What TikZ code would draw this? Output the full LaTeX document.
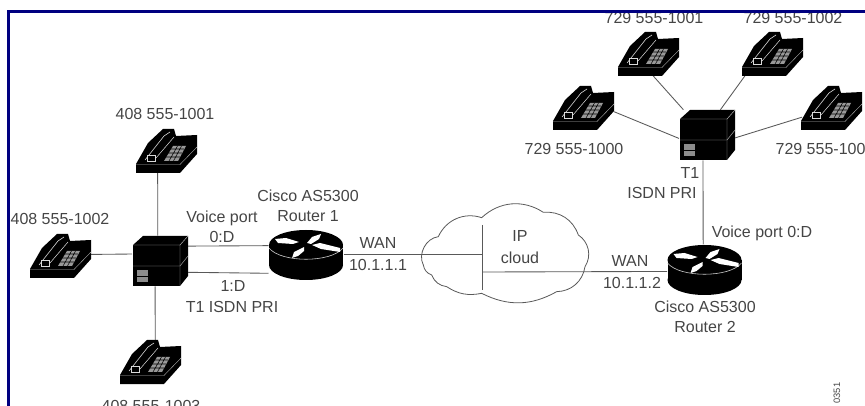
\documentclass[tikz,border=0pt]{standalone}
\usepackage{fontspec}
\setmainfont{Liberation Sans}
\definecolor{framecol}{RGB}{0,0,128}
\definecolor{txtcol}{gray}{0.27}
\definecolor{wirecol}{gray}{0.35}
\tikzset{
  lab/.style={font=\fontsize{12}{15}\selectfont,text=txtcol,inner sep=0pt,align=center},
  wire/.style={draw=wirecol,line width=0.65pt},
  phonebox/.style={minimum width=45pt,minimum height=33pt,inner sep=0pt,outer sep=0pt},
  switchbox/.style={minimum width=42pt,minimum height=38pt,inner sep=0pt,outer sep=0pt},
  routerbox/.style={minimum width=56.25pt,minimum height=37.5pt,inner sep=0pt,outer sep=0pt},
  phonepic/.pic={
    \fill[black] (-31,13)--(-31,22)--(13,22)--(30,3)--(30,-16)--(9,-15)--(7,-22)--(-4,-22)--(-19,-8)--cycle;
    \draw[white!70!black,line width=.3pt] (-31,13.5)--(13,13.5)--(30,-4);
    \draw[white!85!black,line width=.45pt] (-22,9)--(-3,-15)--(3,-19);
    \draw[white!85!black,line width=.4pt] (-11,7)--(7,-14);
    \draw[white!85!black,line width=.4pt,fill=black] (-20,4)--(-12,4)--(-12,10)--(-20,10)--cycle;
    \fill[white!60!black] (-3,10)--(6,-5)--(19,-5)--(11,10)--cycle;
    \draw[black,line width=.4pt] (-1,6)--(13,6) (1,2)--(15,2) (3.5,-2)--(17,-2)
      (2,10)--(10.5,-5) (6.5,10)--(14.5,-5);
  },
  switchpic/.pic={
    \fill[black] (-27,-16)--(-17,-25)--(28,-25)--(28,15)--(20,25)--(-27,25)--cycle;
    \draw[white!70!black,line width=.35pt] (-27,-16)--(20,-16)--(28,-25) (20,-16)--(20,25);
    \draw[white!70!black,line width=.35pt] (-27,5)--(20,5)--(28,-5);
    \fill[white!55!black] (-23,9)--(-12,9)--(-12,21)--(-23,21)--cycle;
    \draw[black,line width=.4pt] (-23,15)--(-12,15);
  },
  routerpic/.pic={
    \fill[black] (0,20) ellipse (37 and 15);
    \fill[black] (-37,0)--(37,0)--(37,20)--(-37,20)--cycle;
    \fill[black] (0,0) ellipse (37 and 15);
    \draw[white!80!black,line width=.45pt] (-37,3) .. controls (-25,18) and (25,18) .. (37,3);
    \fill[white] (-31,-6)--(-20,-7)--(-7,-3)--(-13,-1)--(-28,-2)--cycle;
    \fill[white] (1,-2)--(6,-8)--(15,-11)--(13,-6)--(5,-1)--cycle;
    \fill[white] (6,0)--(14,-2)--(34,3)--(34,7)--(15,4)--cycle;
    \fill[white] (-14,13)--(-12,7)--(-2,2)--(-2,6)--(-8,11)--cycle;
  }
}
\begin{document}
\begin{tikzpicture}[x=.75pt,y=-.75pt]
\useasboundingbox (0,0) rectangle (865,406);
\begin{scope}
\clip (10,13) rectangle (865,406);
% device anchors
\node[phonebox] (ph1) at (167,151) {};
\node[phonebox] (ph2) at (61,256) {};
\node[phonebox] (ph3) at (151,362) {};
\node[switchbox] (sw1) at (160,261) {};
\node[routerbox] (rt1) at (306,255) {};
\node[phonebox] (ph4) at (584,108) {};
\node[phonebox] (ph5) at (649,54) {};
\node[phonebox] (ph6) at (773,54) {};
\node[phonebox] (ph7) at (832,108) {};
\node[switchbox] (sw2) at (707,135) {};
\node[routerbox] (rt2) at (704.5,269.5) {};
\coordinate (cv1) at (482,225);
\coordinate (cv2) at (482,290);
\coordinate (cj2) at (482,272);
% connectors
\draw[wire] (ph1.-113) -- (sw1.95.6);
\draw[wire] (ph2.3.8) -- (sw1.166);
\draw[wire] (ph3.79.7) -- (sw1.-101);
\draw[wire] (sw1.28.2) -- (rt1.166.5);
\draw[wire] (sw1.-22.7) -- (rt1.-154.7);
\draw[wire] (rt1.1.5) -- (rt1.1.5 -| cv1);
\draw[wire] (cv1) -- (cv2);
\draw[wire] (cj2) -- (rt2.183.8);
\draw[wire] (ph4.-7.9) -- (sw2.-173.9);
\draw[wire] (ph5.-79.7) -- (sw2.133.2);
\draw[wire] (ph6.-142) -- (sw2.62.5);
\draw[wire] (ph7.197.2) -- (sw2.-6.1);
\draw[wire] (sw2.-99.1) -- (rt2.93.4);
% cloud
\begin{scope}[shift={(410,195)},x=.25pt,y=-.25pt]
\draw[draw=wirecol,line width=.6pt]
  (40,210) to[bend left=55] (85,125)
  to[bend left=42] (215,68)
  to[bend left=38] (400,52)
  to[bend left=38] (505,120)
  to[bend left=45] (525,215)
  to[bend left=40] (440,290)
  to[bend left=28] (215,295)
  to[bend left=22] (110,275)
  to[bend left=30] (65,240)
  to[bend left=30] cycle;
\end{scope}
% icons
\foreach \n in {ph1,ph2,ph3,ph4,ph5,ph6,ph7} \pic at (\n) {phonepic};
\foreach \n in {sw1,sw2} \pic at (\n) {switchpic};
\pic at (306,245) {routerpic};
\pic at (704.5,260) {routerpic};
% labels
\node[lab] (t1) at (165,114) {408 555-1001};
\node[lab] (t2) at (60,219) {408 555-1002};
\node[lab] (t3) at (151,406) {408 555-1003};
\node[lab] (t4) at (222,218) {Voice port};
\node[lab] (t5) at (222,237) {0:D};
\node[lab] (t6) at (233,286) {1:D};
\node[lab] (t7) at (232,307) {T1 ISDN PRI};
\node[lab] (t8) at (308,206) {Cisco AS5300\\Router 1};
\node[lab] (t9) at (378,243) {WAN};
\node[lab] (t10) at (378,265) {10.1.1.1};
\node[lab] (t11) at (520,236) {IP};
\node[lab] (t12) at (520,258) {cloud};
\node[lab] (t13) at (654,18) {729 555-1001};
\node[lab] (t14) at (793,18) {729 555-1002};
\node[lab] (t15) at (574,149) {729 555-1000};
\node[lab] (t16) at (825,149) {729 555-1003};
\node[lab] (t17) at (690,173) {T1};
\node[lab] (t18) at (662,193) {ISDN PRI};
\node[lab] (t19) at (762,233) {Voice port 0:D};
\node[lab] (t20) at (630,261) {WAN};
\node[lab] (t21) at (632,283) {10.1.1.2};
\node[lab] (t22) at (705,316.5) {Cisco AS5300\\Router 2};
\node[lab,font=\fontsize{7}{8}\selectfont,rotate=90] (t23) at (837,393) {0351};
\end{scope}
% frame
\fill[framecol] (7,10) rectangle (865,13);
\fill[framecol] (7,10) rectangle (10,406);
\end{tikzpicture}
\end{document}
